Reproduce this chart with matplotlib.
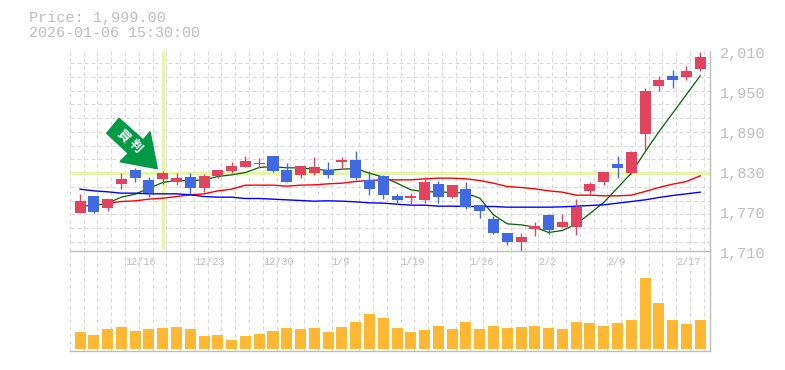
import numpy as np
import matplotlib
matplotlib.use('Agg')
import matplotlib.pyplot as plt
from matplotlib.patches import Polygon
from matplotlib.transforms import IdentityTransform

# daily prices
opens = [1771, 1796, 1778.5, 1814, 1835, 1820, 1821.5, 1817.5, 1824.5, 1808.5,
         1826, 1833.5, 1839.5, 1844, 1856, 1835, 1827.5, 1830.5, 1835, 1847,
         1850, 1820, 1826, 1796, 1793, 1790, 1814, 1794.5, 1806.5, 1782.5,
         1761.5, 1740.5, 1727, 1746.5, 1767.5, 1749.5, 1749.5, 1803.5, 1817, 1844,
         1830.5, 1889, 1961, 1976, 1974.5, 1986.5]
closes = [1788.5, 1772, 1791.5, 1821.5, 1823, 1801, 1830.5, 1823, 1808, 1826,
          1835, 1841, 1848.5, 1845.5, 1833.5, 1817, 1841, 1839.5, 1827.5, 1850,
          1823, 1806.5, 1797.5, 1790, 1796, 1817, 1794.5, 1812.5, 1779.5, 1773.5,
          1740.5, 1727, 1734.5, 1751, 1745, 1757, 1779.5, 1814, 1832, 1838,
          1862, 1953.5, 1970, 1970, 1983.5, 2004.5]
highs = [1799, 1796, 1791.5, 1831, 1837.5, 1824.5, 1833.5, 1830.5, 1830.5, 1829,
         1835, 1847, 1856, 1853, 1856, 1845.5, 1841, 1854.5, 1847, 1854.5,
         1863.5, 1833.5, 1827.5, 1799, 1800.5, 1824.5, 1818.5, 1812.5, 1817, 1782.5,
         1766, 1740.5, 1740.5, 1757, 1769, 1769, 1791.5, 1817, 1832, 1856,
         1863.5, 1958, 1976, 1985, 1991, 2012]
lows = [1771, 1770.5, 1774, 1806.5, 1817, 1795, 1814, 1812.5, 1799.5, 1802,
        1823, 1830.5, 1839.5, 1838, 1832, 1817, 1823, 1827.5, 1823, 1838,
        1820, 1797.5, 1791.5, 1784, 1784, 1785.5, 1785.5, 1793, 1776.5, 1763,
        1739, 1722.5, 1713.5, 1736, 1739, 1749.5, 1737.5, 1797.5, 1812.5, 1823,
        1829, 1865, 1953.5, 1958, 1970, 1983.5]

# moving averages
ma_short = [1781, 1781, 1785, 1794, 1798.5, 1807.5, 1816, 1819, 1818.5, 1820,
            1825, 1827.5, 1831, 1838.5, 1840, 1838, 1838, 1836, 1834, 1836,
            1837, 1830, 1824, 1815, 1805, 1802, 1802, 1801, 1800, 1792.5,
            1767.5, 1754, 1752.5, 1749, 1741, 1744, 1753.5, 1769.5, 1786, 1808,
            1830, 1862, 1892, 1920, 1948, 1976]
ma_mid = [np.nan, np.nan, 1785, 1787.5, 1788.5, 1791, 1792.5, 1795, 1797.5, 1799,
          1803.5, 1806, 1812, 1812, 1812, 1810.5, 1812, 1812.5, 1814, 1815,
          1817.5, 1819, 1820, 1820, 1820, 1821.5, 1822.5, 1822.5, 1821.5, 1819,
          1815, 1810, 1808.5, 1806.5, 1803.5, 1801.5, 1797, 1797, 1796, 1796,
          1797, 1802.5, 1808.5, 1813.5, 1817.5, 1826]
ma_long = [1806, 1803.5, 1802, 1800, 1800, 1799, 1799, 1799, 1797.5, 1795,
           1794, 1794, 1792, 1792, 1791, 1790, 1789, 1788, 1788.5, 1788,
           1787, 1785.5, 1785, 1783.5, 1782, 1782, 1780.5, 1780.5, 1780, 1780,
           1780, 1779, 1779, 1779, 1779, 1779.5, 1780.5, 1781.5, 1782.5, 1785,
           1787.5, 1790, 1793.5, 1796.5, 1799, 1801.5]

volume = [17, 14, 20, 22, 18, 20, 21, 22, 20, 13,
          14, 9, 13, 15, 18, 21, 20, 21, 17, 22,
          27, 35, 31, 21, 17, 19, 23, 20, 27, 20,
          23, 21, 22, 23, 21, 20, 27, 26, 23, 26,
          29, 71, 46, 29, 25, 29]

price_ticks = [2010, 1950, 1890, 1830, 1770, 1710]
date_labels = ['12/16', '12/23', '12/30', '1/9', '1/19', '1/26', '2/2', '2/9', '2/17']
date_index = [4, 9, 14, 19, 24, 29, 34, 39, 44]
cross_index = 6
cross_price = 1830

W, H = 785, 370
GRAY = '#bdbdbd'
GRID = '#d8d8d8'
UP = '#e2445f'
DOWN = '#4169e1'
CROSS = '#e6f5a8'

plt.rcParams['font.family'] = ['Liberation Mono', 'DejaVu Sans Mono']

fig = plt.figure(figsize=(W / 100, H / 100), dpi=100)
ax = fig.add_axes([70 / W, (H - 250.5) / H, 640 / W, 200 / H])
ax_vol = fig.add_axes([70 / W, (H - 350.5) / H, 640 / W, 100 / H], sharex=ax)

x = np.arange(len(opens))
x0, x1 = -0.73, 45.71
ax.set_xlim(x0, x1)
y_low, y_high = 1714, 2014
ax.set_ylim(y_low, y_high)
ax_vol.set_ylim(-2, 98)

for a in (ax, ax_vol):
    a.patch.set_alpha(0)
    a.tick_params(left=False, bottom=False, right=False, labelleft=False, labelbottom=False)
    for s in ['top', 'left']:
        a.spines[s].set_visible(False)
    for s in ['bottom', 'right']:
        a.spines[s].set_color(GRAY)
        a.spines[s].set_linewidth(1.0)
    # vertical grid, a little to the left of the candles
    for g in np.arange(47) - 0.74:
        a.axvline(g, color=GRID, lw=0.72, dashes=(4, 3), zorder=0.5)

for k in np.arange(-6, 9):
    ax.axhline(1830 + k * 20.63, color=GRID, lw=0.72, dashes=(4, 3), zorder=0.5)

# crosshair
ax.axhline(cross_price, color=CROSS, lw=2.4, zorder=1)
ax.plot([cross_index, cross_index], [1717, y_high], color=CROSS, lw=2.4, zorder=1, solid_capstyle='butt')

# moving averages
ax.plot(x, ma_short, color='#006400', lw=0.9, zorder=2)
ax.plot(x, ma_mid, color='#ff0000', lw=1.0, zorder=2)
ax.plot(x, ma_long, color='#0000ff', lw=1.0, zorder=2)

# candles
colors = [UP if c >= o else DOWN for o, c in zip(opens, closes)]
ax.vlines(x, lows, highs, colors=colors, lw=1.0, zorder=3)
ax.bar(x, np.abs(np.array(closes) - np.array(opens)), bottom=np.minimum(opens, closes),
       width=0.8, color=colors, zorder=3)

# volume
ax_vol.bar(x, volume, width=0.8, color='#ffb833', zorder=3)

# axis labels, the text sits a pixel under its level
for p in price_ticks:
    ax.text(x1 + 0.72, p - 1.2, f'{p:,}', color=GRAY, fontsize=10.9, va='center', ha='left', clip_on=False)
for i, label in zip(date_index, date_labels):
    ax.text(i - 0.74, y_low - 17.5, label, color=GRAY, fontsize=7.3, va='center', ha='left', clip_on=False)

fig.text(29 / W, (H - 18) / H, 'Price: 1,999.00', color=GRAY, fontsize=10.9, va='center')
fig.text(29 / W, (H - 33) / H, '2026-01-06 15:30:00', color=GRAY, fontsize=10.8, va='center')

# buy signal arrow
arrow = [(119, 118.3), (106.7, 133.3), (128.3, 153.3), (120, 161.7), (157.3, 168.7), (150, 131.7), (143.3, 140)]
fig.add_artist(Polygon([(px, H - py) for px, py in arrow], closed=True, color='#009944',
                       transform=IdentityTransform(), zorder=10))
for ch, px, py in [('買', 123.3, 136), ('判', 135.3, 146)]:
    fig.text(px / W, (H - py) / H, ch, color='white', fontsize=9, weight='bold', rotation=-45,
             family=['Noto Sans CJK JP', 'DejaVu Sans'], ha='center', va='center', zorder=11)

fig.savefig('out.png', dpi=100)
